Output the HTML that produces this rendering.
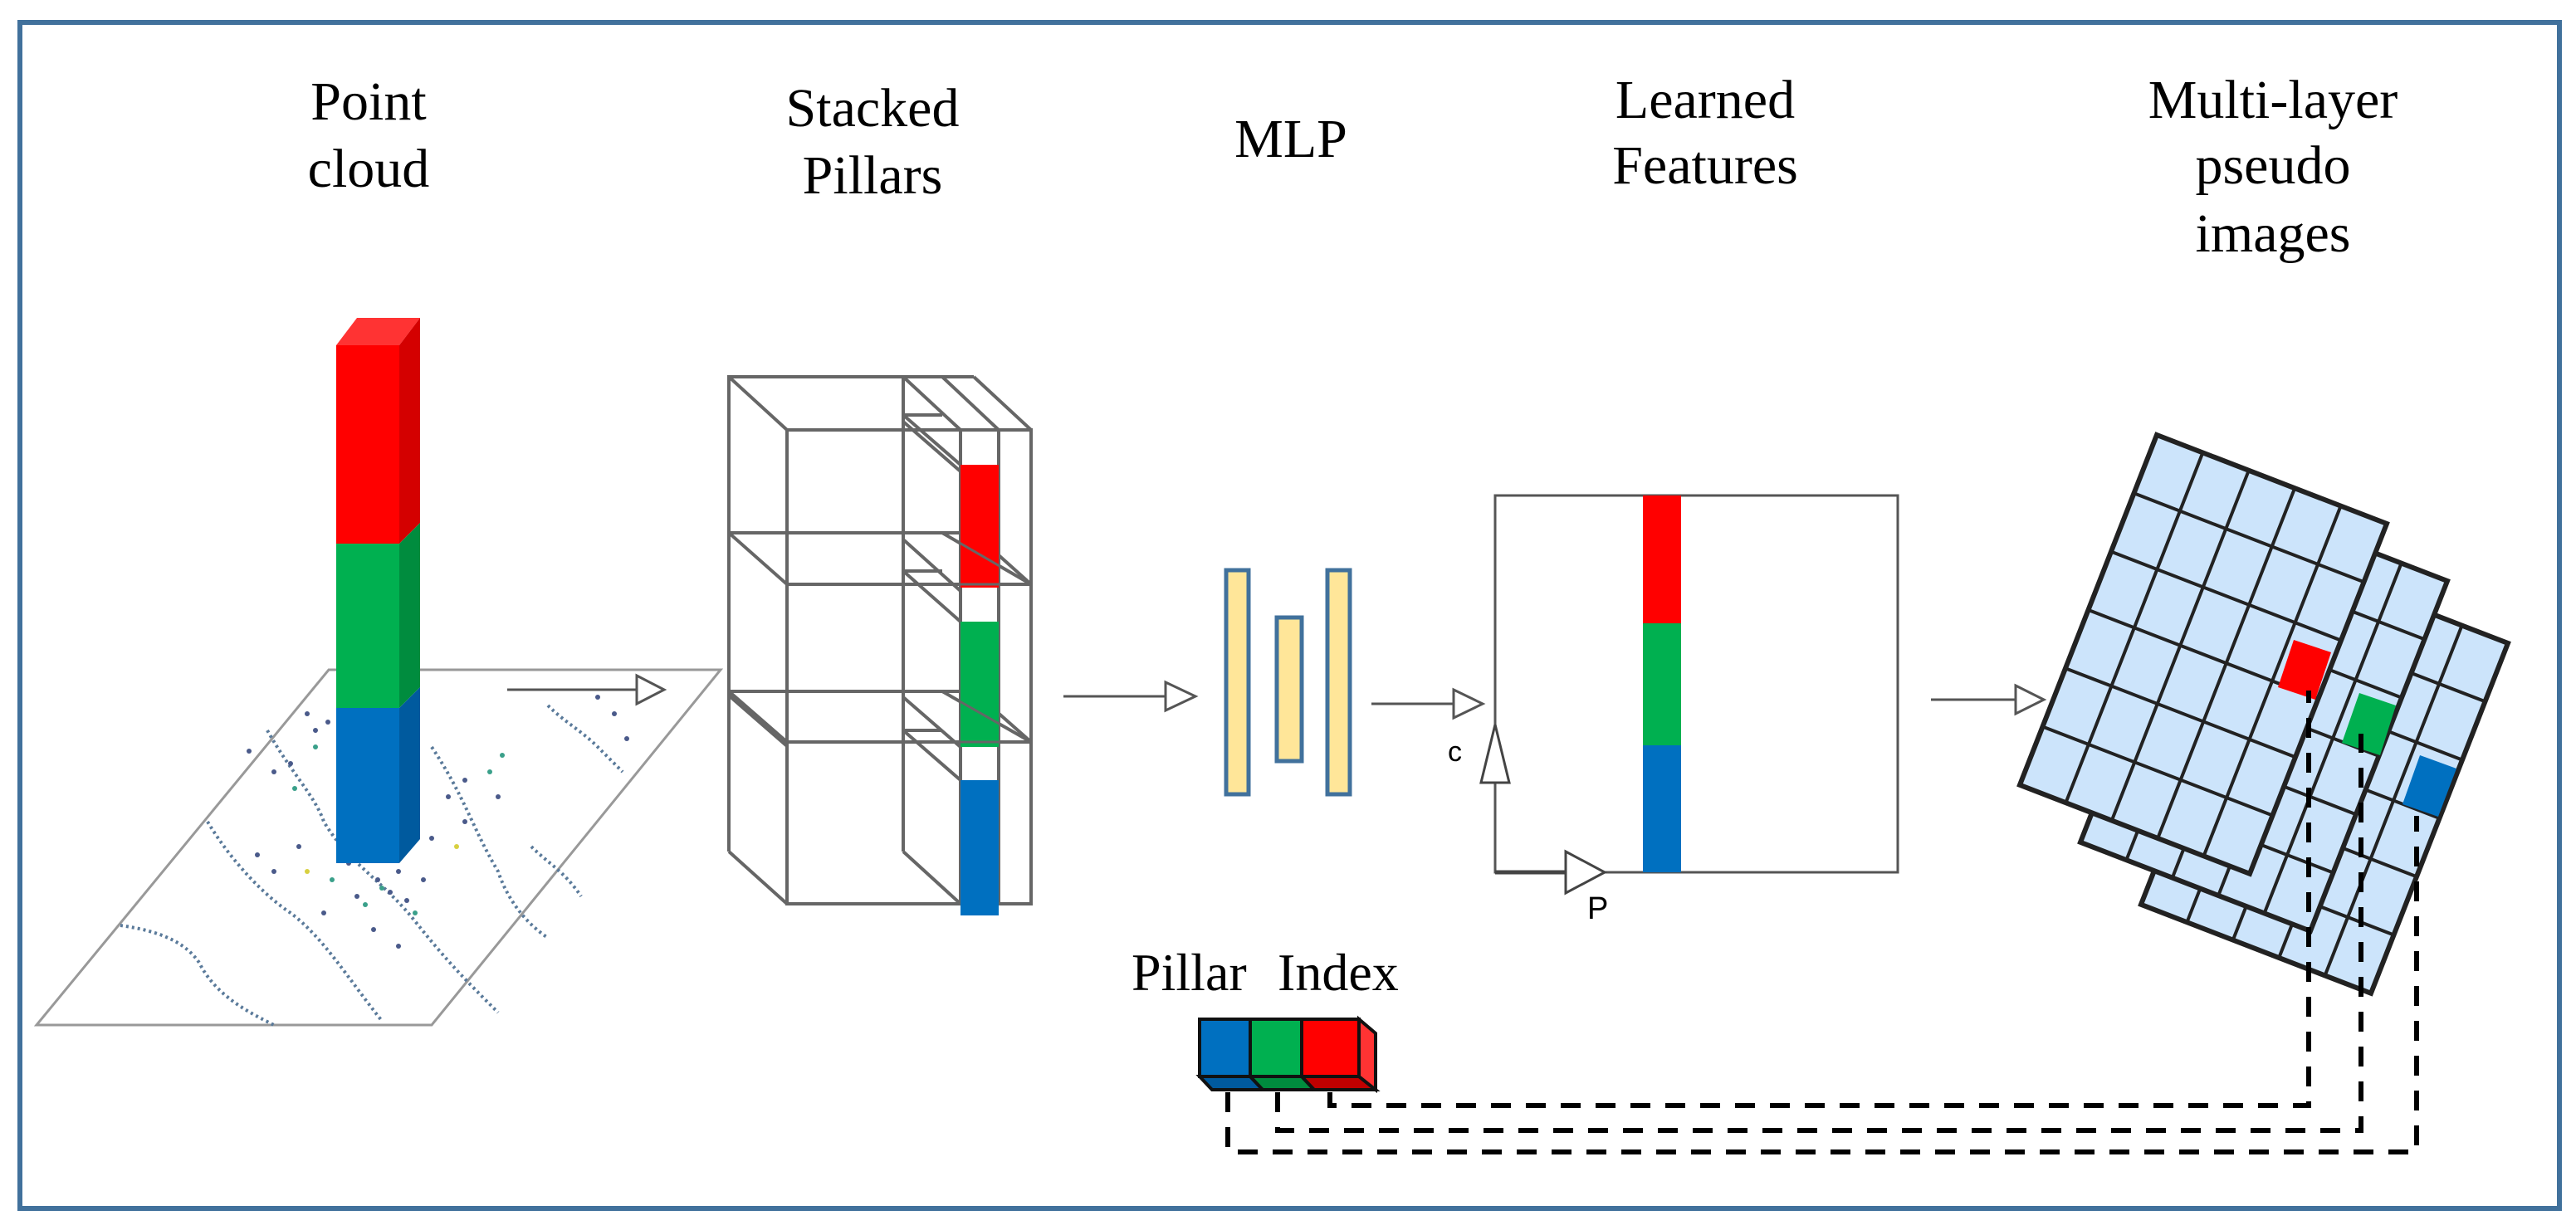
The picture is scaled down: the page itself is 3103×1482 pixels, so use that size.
<!DOCTYPE html>
<html><head><meta charset="utf-8"><style>
html,body{margin:0;padding:0;background:#fff;}
svg{display:block;}
text{font-family:"Liberation Serif",serif;fill:#000;}
</style></head><body>
<svg width="3103" height="1482" viewBox="0 0 3103 1482" xmlns="http://www.w3.org/2000/svg">
<rect x="24" y="27" width="3059" height="1429" fill="#fff" stroke="#41719c" stroke-width="6"/>

<!-- titles -->
<g font-size="66" text-anchor="middle">
<text x="444" y="144">Point</text><text x="444" y="225">cloud</text>
<text x="1051" y="152">Stacked</text><text x="1051" y="233">Pillars</text>
<text x="1555" y="189">MLP</text>
<text x="2054" y="142">Learned</text><text x="2054" y="221">Features</text>
<text x="2738" y="142">Multi-layer</text><text x="2738" y="221">pseudo</text><text x="2738" y="303">images</text>
</g>

<!-- point cloud plane -->
<polygon points="44,1235 520,1235 868,807 396,807" fill="#fff" stroke="#999" stroke-width="3"/>
<g fill="none" stroke="#5a7a9a" stroke-width="4" stroke-dasharray="3 4">
<path d="M322,880 C350,930 380,960 390,990 C420,1040 460,1060 500,1110 C540,1160 560,1180 600,1220"/>
<path d="M250,990 C280,1040 320,1080 350,1100 C390,1130 420,1180 460,1230"/>
<path d="M145,1115 C180,1120 220,1130 240,1160 C260,1200 300,1220 330,1235"/>
<path d="M520,900 C560,960 570,1000 600,1050 C610,1080 630,1110 660,1130"/>
<path d="M640,1020 C660,1040 680,1050 700,1080"/>
<path d="M660,850 C680,870 700,880 720,900 C730,910 740,920 750,930"/>
</g>
<g fill="#4a5a8a">
<circle cx="370" cy="860" r="3"/><circle cx="380" cy="880" r="3"/><circle cx="395" cy="870" r="3"/><circle cx="350" cy="920" r="3"/><circle cx="300" cy="905" r="3"/><circle cx="330" cy="930" r="3"/><circle cx="410" cy="950" r="3"/><circle cx="420" cy="990" r="3"/><circle cx="445" cy="980" r="3"/><circle cx="470" cy="1000" r="3"/><circle cx="500" cy="970" r="3"/><circle cx="520" cy="1010" r="3"/><circle cx="480" cy="1050" r="3"/><circle cx="360" cy="1020" r="3"/><circle cx="330" cy="1050" r="3"/><circle cx="310" cy="1030" r="3"/><circle cx="540" cy="960" r="3"/><circle cx="560" cy="990" r="3"/><circle cx="430" cy="1080" r="3"/><circle cx="390" cy="1100" r="3"/><circle cx="450" cy="1120" r="3"/><circle cx="480" cy="1140" r="3"/><circle cx="560" cy="940" r="3"/><circle cx="600" cy="960" r="3"/>
<circle cx="720" cy="840" r="3"/><circle cx="740" cy="860" r="3"/><circle cx="755" cy="890" r="3"/>
<circle cx="455" cy="1060" r="3"/><circle cx="470" cy="1075" r="3"/><circle cx="490" cy="1085" r="3"/><circle cx="510" cy="1060" r="3"/><circle cx="420" cy="1040" r="3"/>
</g>
<g fill="#3aa08a"><circle cx="380" cy="900" r="3"/><circle cx="355" cy="950" r="3"/><circle cx="400" cy="1060" r="3"/><circle cx="440" cy="1090" r="3"/><circle cx="460" cy="1070" r="3"/><circle cx="500" cy="1100" r="3"/><circle cx="590" cy="930" r="3"/><circle cx="605" cy="910" r="3"/></g>
<g fill="#d8d040"><circle cx="370" cy="1050" r="3"/><circle cx="550" cy="1020" r="3"/></g>

<!-- pillar -->
<polygon points="405,416 430,383 506,383 481,416" fill="#ff3333"/>
<rect x="405" y="416" width="76" height="239" fill="#ff0000"/>
<rect x="405" y="655" width="76" height="198" fill="#00b050"/>
<rect x="405" y="853" width="76" height="187" fill="#0070c0"/>
<polygon points="481,416 506,383 506,630 481,655" fill="#d40000"/>
<polygon points="481,655 506,630 506,828 481,853" fill="#008c3e"/>
<polygon points="481,853 506,828 506,1011 481,1040" fill="#005a9e"/>

<!-- arrows -->
<g stroke="#555" stroke-width="3" fill="#fff">
<line x1="611" y1="831" x2="767" y2="831"/><polygon points="767,814 800,831 767,848"/>
<line x1="1281" y1="839" x2="1404" y2="839"/><polygon points="1404,822 1440,839 1404,856"/>
<line x1="1652" y1="848" x2="1751" y2="848"/><polygon points="1751,831 1786,848 1751,865"/>
<line x1="2326" y1="843" x2="2428" y2="843"/><polygon points="2428,826 2462,843 2428,860"/>
</g>

<!-- stacked pillars wireframe -->
<g stroke="#666" stroke-width="4" fill="none">
<polyline points="878,1026 878,454 1173,454"/>
<rect x="948" y="518" width="294" height="571"/>
<line x1="878" y1="454" x2="948" y2="518"/>
<line x1="878" y1="1026" x2="948" y2="1089"/>
<line x1="1173" y1="454" x2="1242" y2="518"/>
<line x1="878" y1="642" x2="1173" y2="642"/><line x1="878" y1="642" x2="948" y2="704"/><line x1="1173" y1="642" x2="1242" y2="704"/>
<line x1="948" y1="704" x2="1242" y2="704"/>
<line x1="878" y1="833" x2="1173" y2="833"/><line x1="878" y1="833" x2="948" y2="894"/><line x1="1173" y1="833" x2="1242" y2="894"/>
<line x1="948" y1="894" x2="1242" y2="894"/><line x1="878" y1="838" x2="948" y2="899"/>
<line x1="1088" y1="454" x2="1088" y2="1026"/><line x1="1088" y1="1026" x2="1157" y2="1089"/>
<line x1="1088" y1="454" x2="1157" y2="518"/><line x1="1135" y1="454" x2="1203" y2="518"/>
<line x1="1157" y1="518" x2="1157" y2="1089"/><line x1="1203" y1="518" x2="1203" y2="1089"/>
<line x1="1088" y1="500" x2="1135" y2="500"/><line x1="1088" y1="500" x2="1157" y2="560"/><line x1="1088" y1="508" x2="1157" y2="568"/>
<line x1="1088" y1="688" x2="1135" y2="688"/><line x1="1088" y1="688" x2="1157" y2="749"/><line x1="1088" y1="650" x2="1157" y2="712"/>
<line x1="1088" y1="880" x2="1135" y2="880"/><line x1="1088" y1="880" x2="1157" y2="940"/><line x1="1088" y1="840" x2="1157" y2="900"/>
<line x1="1135" y1="642" x2="1242" y2="704"/><line x1="1135" y1="833" x2="1242" y2="894"/>
</g>
<rect x="1157" y="560" width="46" height="148" fill="#ff0000"/>
<rect x="1157" y="749" width="46" height="151" fill="#00b050"/>
<rect x="1157" y="940" width="46" height="163" fill="#0070c0"/>
<g stroke="#666" stroke-width="3" fill="none">
<line x1="1157" y1="704" x2="1242" y2="704"/><line x1="1157" y1="894" x2="1242" y2="894"/>
<line x1="1135" y1="642" x2="1242" y2="704"/><line x1="1135" y1="833" x2="1242" y2="894"/>
</g>

<!-- MLP bars -->
<g fill="#ffe699" stroke="#41719c" stroke-width="5">
<rect x="1477" y="687" width="27" height="270"/>
<rect x="1538" y="744" width="30" height="173"/>
<rect x="1599" y="687" width="27" height="270"/>
</g>

<!-- learned features -->
<rect x="1801" y="597" width="485" height="454" fill="#fff" stroke="#555" stroke-width="3"/>
<rect x="1979" y="597" width="46" height="154" fill="#ff0000"/>
<rect x="1979" y="751" width="46" height="147" fill="#00b050"/>
<rect x="1979" y="898" width="46" height="153" fill="#0070c0"/>
<g stroke="#444" stroke-width="5" fill="#fff">
<line x1="1801" y1="1051" x2="1886" y2="1051"/>
<polygon points="1801,873 1818,943 1784,943" stroke-width="3"/>
<polygon points="1886,1026 1933,1051 1886,1076" stroke-width="3"/>
</g>
<text x="1744" y="917" font-size="34" style="font-family:'Liberation Sans',sans-serif">c</text>
<text x="1912" y="1107" font-size="38" style="font-family:'Liberation Sans',sans-serif">P</text>

<!-- grids -->
<defs>
<g id="grid">
<polygon points="0,0 5,0 5,6 0,6" fill="#cce4fb"/>
<g stroke="#222" stroke-width="4" fill="none">
<path d="M1,0V6M2,0V6M3,0V6M4,0V6M0,1H5M0,2H5M0,3H5M0,4H5M0,5H5" vector-effect="non-scaling-stroke"/>
<polygon points="0,0 5,0 5,6 0,6" stroke-width="6" vector-effect="non-scaling-stroke"/>
</g>
</g>
</defs>
<use href="#grid" transform="matrix(55.4,21.4,-27.5,70.3,2744,668)"/>
<use href="#grid" transform="matrix(55.4,21.4,-27.5,70.3,2671,593)"/>
<use href="#grid" transform="matrix(55.4,21.4,-27.5,70.3,2598,524)"/>
<polygon points="2763,771 2808,786 2789,843 2744,828" fill="#ff0000"/>
<polygon points="2842,835 2886,850 2867,910 2821,895" fill="#00b050"/>
<polygon points="2915,910 2959,926 2937,984 2894,969" fill="#0070c0"/>

<!-- pillar index -->
<text x="1363" y="1193" font-size="64">Pillar</text>
<text x="1539" y="1193" font-size="64">Index</text>
<g stroke="#111" stroke-width="4">
<polygon points="1445,1297 1506,1297 1521,1313 1460,1313" fill="#005a9e"/>
<polygon points="1506,1297 1568,1297 1583,1313 1521,1313" fill="#008c3e"/>
<polygon points="1568,1297 1637,1297 1657,1313 1583,1313" fill="#c00000"/>
<polygon points="1637,1228 1657,1245 1657,1313 1637,1297" fill="#ff3333"/>
<rect x="1445" y="1228" width="61" height="69" fill="#0070c0"/>
<rect x="1506" y="1228" width="62" height="69" fill="#00b050"/>
<rect x="1568" y="1228" width="69" height="69" fill="#ff0000"/>
</g>

<!-- dashed connectors -->
<g fill="none" stroke="#000" stroke-width="6" stroke-dasharray="24 18">
<polyline points="1602,1316 1602,1332 2781,1332 2781,832"/>
<polyline points="1539,1316 1539,1362 2844,1362 2844,884"/>
<polyline points="1479,1316 1479,1388 2911,1388 2911,983"/>
</g>
</svg>
</body></html>
